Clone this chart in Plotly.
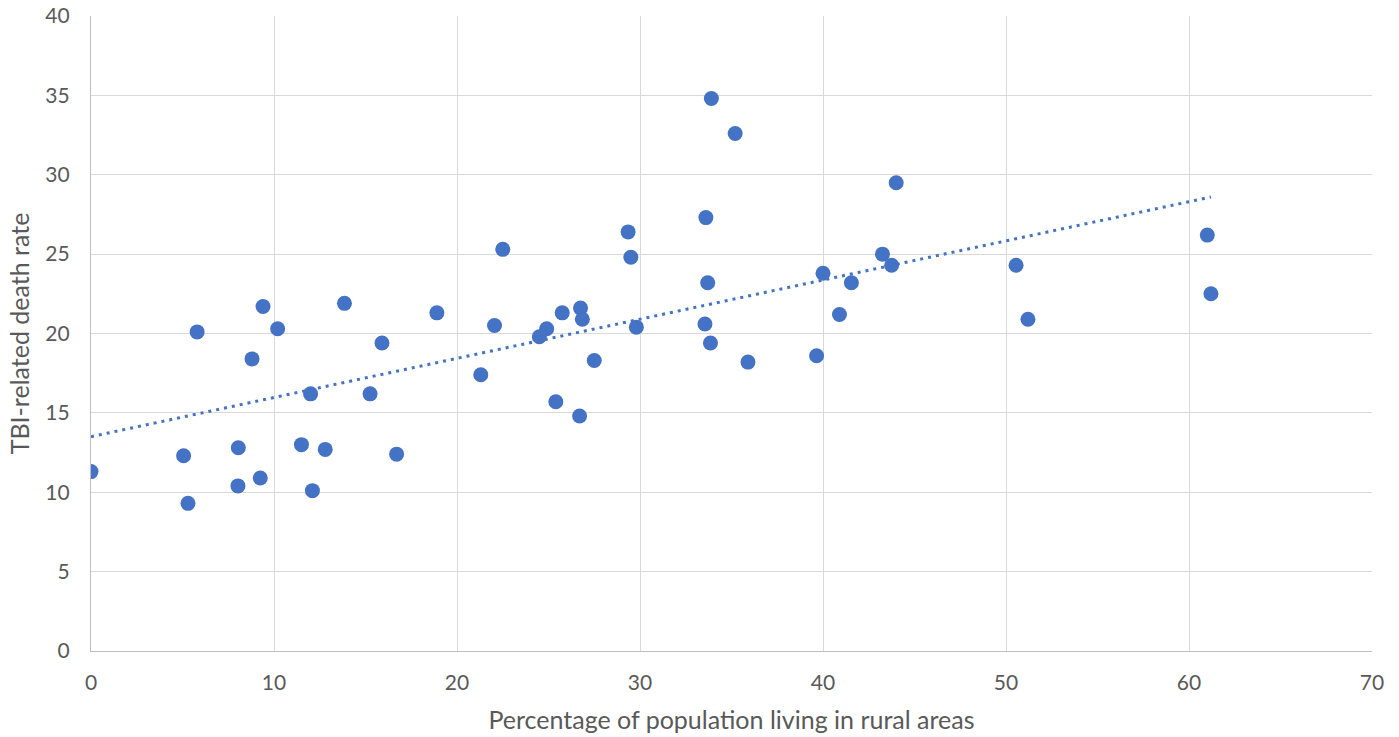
import numpy as np
import plotly.graph_objects as go

rural_pct = [0.0, 5.06, 5.3, 5.8, 8.05, 8.03, 8.8, 9.25, 9.4, 10.2,
             11.5, 12.0, 12.1, 12.8, 13.85, 15.25, 15.9, 16.7, 18.9, 21.3,
             22.05, 22.5, 24.5, 24.9, 25.4, 25.75, 26.7, 26.75, 26.85, 27.5,
             29.35, 29.5, 29.8, 33.55, 33.6, 33.7, 33.85, 33.9, 35.2, 35.9,
             39.65, 40.0, 40.9, 41.55, 43.25, 43.75, 44.0, 50.55, 51.2, 61.0,
             61.2]
tbi_rate = [11.3, 12.3, 9.3, 20.1, 12.8, 10.4, 18.4, 10.9, 21.7, 20.3,
            13.0, 16.2, 10.1, 12.7, 21.9, 16.2, 19.4, 12.4, 21.3, 17.4,
            20.5, 25.3, 19.8, 20.3, 15.7, 21.3, 14.8, 21.6, 20.9, 18.3,
            26.4, 24.8, 20.4, 20.6, 27.3, 23.2, 19.4, 34.8, 32.6, 18.2,
            18.6, 23.8, 21.2, 23.2, 25.0, 24.3, 29.5, 24.3, 20.9, 26.2,
            22.5]
x_ticks = [0, 10, 20, 30, 40, 50, 60, 70]
y_ticks = [0, 5, 10, 15, 20, 25, 30, 35, 40]

x = np.array(rural_pct)
y = np.array(tbi_rate)
slope, intercept = np.polyfit(x, y, 1)
trend_x = np.array([x.min(), x.max()])
trend_y = intercept + slope * trend_x

BLUE = "#4472C4"
FONT = "Lato"
GREY_TXT = "#595959"

fig = go.Figure()
fig.add_trace(go.Scatter(x=trend_x, y=trend_y, mode="lines",
                         line=dict(color=BLUE, width=3, dash="3px,5px"),
                         hoverinfo="skip", showlegend=False))
fig.add_trace(go.Scatter(x=rural_pct, y=tbi_rate, mode="markers",
                         marker=dict(color=BLUE, size=15, line=dict(width=0)),
                         showlegend=False))

fig.update_layout(
    width=1399, height=737,
    margin=dict(l=91, r=27, t=16, b=86),
    paper_bgcolor="white", plot_bgcolor="white",
    font=dict(family=FONT, color=GREY_TXT, size=21),
)
fig.update_xaxes(
    range=[0, 70], tickvals=x_ticks, showgrid=True, gridcolor="#D9D9D9", gridwidth=1.4,
    zeroline=False, showline=True, linecolor="#BFBFBF", linewidth=1.4,
    ticks="outside", ticklen=13, tickcolor="rgba(0,0,0,0)", automargin=False,
    tickfont=dict(family=FONT, size=21, color=GREY_TXT),
    title=dict(text="Percentage of population living in rural areas",
               font=dict(family=FONT, size=25, color=GREY_TXT), standoff=18),
)
fig.update_yaxes(
    range=[0, 40], tickvals=y_ticks, showgrid=True, gridcolor="#D9D9D9", gridwidth=1.4,
    zeroline=False, showline=True, linecolor="#BFBFBF", linewidth=1.4,
    ticks="outside", ticklen=16, tickcolor="rgba(0,0,0,0)", automargin=False,
    tickfont=dict(family=FONT, size=21, color=GREY_TXT),
    title=dict(text="TBI-related death rate",
               font=dict(family=FONT, size=25, color=GREY_TXT), standoff=8),
)

fig.write_html("out.html", config={"displayModeBar": False},
               post_script="document.body.style.margin='0px';")
